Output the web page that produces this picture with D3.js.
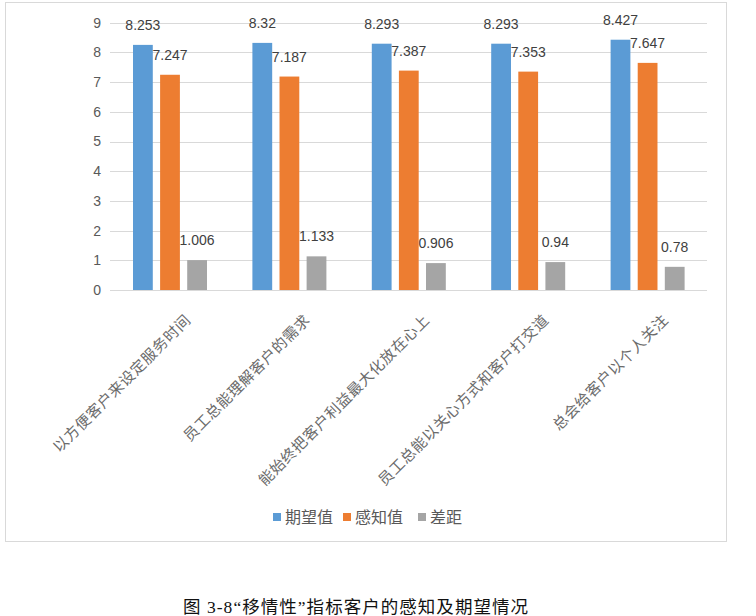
<!DOCTYPE html>
<html>
<head>
<meta charset="utf-8">
<script src="https://cdn.jsdelivr.net/npm/d3@7"></script>
<style>
  html, body { margin: 0; padding: 0; background: #fff; }
  svg { display: block; }
</style>
</head>
<body>
<svg id="chart" width="756" height="616"></svg>
<script>
const categories = [
  "以方便客户来设定服务时间",
  "员工总能理解客户的需求",
  "能始终把客户利益最大化放在心上",
  "员工总能以关心方式和客户打交道",
  "总会给客户以个人关注"
];
const seriesNames = ["期望值", "感知值", "差距"];
const expectValues = [8.253, 8.32, 8.293, 8.293, 8.427];
const perceiveValues = [7.247, 7.187, 7.387, 7.353, 7.647];
const gapValues = [1.006, 1.133, 0.906, 0.94, 0.78];
const yTicks = [0, 1, 2, 3, 4, 5, 6, 7, 8, 9];
const colors = ["#5B9BD5", "#ED7D31", "#A5A5A5"];
const caption = "图 3-8“移情性”指标客户的感知及期望情况";

const seriesValues = [expectValues, perceiveValues, gapValues];
const svg = d3.select("#chart");

// chart frame
svg.append("rect")
  .attr("x", 5.5).attr("y", 2.5)
  .attr("width", 721).attr("height", 539)
  .attr("fill", "#fff").attr("stroke", "#d9d9d9").attr("stroke-width", 1);

const plot = { left: 110, right: 707, top: 22.7, bottom: 290 };

const y = d3.scaleLinear().domain([0, 9]).range([plot.bottom, plot.top]);
const x0 = d3.scaleBand().domain(categories).range([plot.left, plot.right]).padding(0);
const x1 = d3.scaleBand().domain(seriesNames).range([23, 97]).paddingInner(0.27).paddingOuter(0);

// gridlines
svg.append("g").selectAll("line").data(yTicks).join("line")
  .attr("x1", plot.left).attr("x2", plot.right)
  .attr("y1", d => Math.round(y(d)) + 0.5).attr("y2", d => Math.round(y(d)) + 0.5)
  .attr("stroke", "#d9d9d9").attr("stroke-width", 1);

// y axis labels
const yAxis = d3.axisLeft(y).tickValues(yTicks).tickSize(0).tickPadding(0).tickFormat(d3.format("d"));
const yg = svg.append("g").attr("transform", `translate(${plot.left - 9},0)`).call(yAxis);
yg.select(".domain").remove();
yg.selectAll("text")
  .attr("font-family", "'Liberation Sans', Arial, sans-serif")
  .attr("font-size", 14).attr("fill", "#595959");

// bars
const rows = categories.map((c, i) => ({ cat: c, vals: seriesNames.map((s, j) => ({ s, j, v: seriesValues[j][i] })) }));
const groups = svg.append("g").selectAll("g").data(rows).join("g")
  .attr("transform", d => `translate(${x0(d.cat)},0)`);

groups.selectAll("rect").data(d => d.vals).join("rect")
  .attr("x", d => x1(d.s))
  .attr("width", x1.bandwidth())
  .attr("y", d => y(d.v))
  .attr("height", d => y(0) - y(d.v))
  .attr("fill", d => colors[d.j]);

groups.selectAll("text").data(d => d.vals).join("text")
  .attr("x", d => x1(d.s) + x1.bandwidth() / 2)
  .attr("y", d => y(d.v) - 15)
  .attr("text-anchor", "middle")
  .attr("font-family", "'Liberation Sans', Arial, sans-serif")
  .attr("font-size", 14)
  .attr("fill", "#404040")
  .text(d => String(d.v));

// category labels
svg.append("g").selectAll("text").data(categories).join("text")
  .attr("transform", d => `translate(${x0(d) + x0.bandwidth() / 2 + 22},${plot.bottom + 31}) rotate(-45)`)
  .attr("text-anchor", "end")
  .attr("font-family", "'Noto Sans CJK SC', sans-serif")
  .attr("font-size", 15)
  .attr("letter-spacing", 0.6)
  .attr("fill", "#6b6b6b")
  .text(d => d);

// legend
const legendItems = [
  { name: seriesNames[0], x: 273 },
  { name: seriesNames[1], x: 343 },
  { name: seriesNames[2], x: 418 }
];
const lg = svg.append("g").selectAll("g").data(legendItems).join("g")
  .attr("transform", d => `translate(${d.x},517)`);
lg.append("rect").attr("x", 0).attr("y", -4).attr("width", 8).attr("height", 8)
  .attr("fill", (d, i) => colors[i]);
lg.append("text").attr("x", 12).attr("y", 6)
  .attr("font-family", "'Noto Sans CJK SC', sans-serif")
  .attr("font-size", 16).attr("fill", "#595959")
  .text(d => d.name);

// caption
svg.append("text")
  .attr("x", 183).attr("y", 613)
  .attr("font-family", "'Liberation Serif', 'Noto Sans CJK SC', serif")
  .attr("font-size", 17.5).attr("fill", "#111")
  .attr("textLength", 345).attr("lengthAdjust", "spacing")
  .text(caption);
</script>
</body>
</html>
